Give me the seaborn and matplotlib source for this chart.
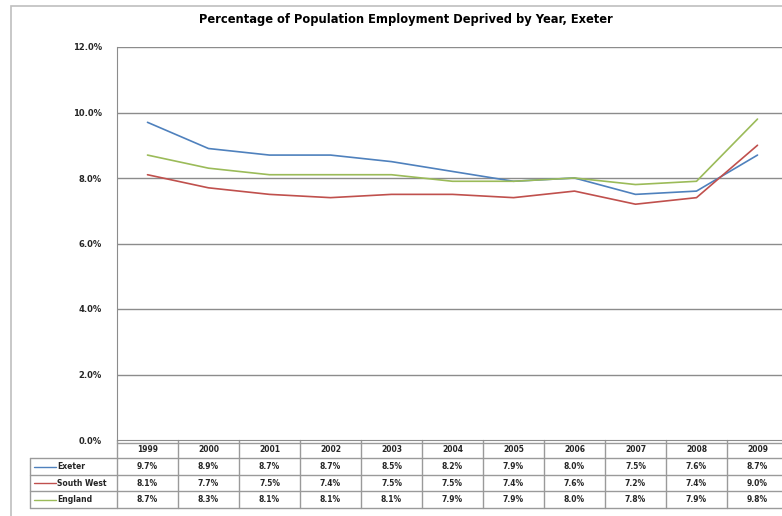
import pandas as pd
import matplotlib.pyplot as plt
import matplotlib.transforms as mtransforms
from matplotlib.patches import Rectangle
import seaborn as sns

years = ["1999", "2000", "2001", "2002", "2003", "2004", "2005", "2006", "2007", "2008", "2009"]
exeter = [9.7, 8.9, 8.7, 8.7, 8.5, 8.2, 7.9, 8.0, 7.5, 7.6, 8.7]
south_west = [8.1, 7.7, 7.5, 7.4, 7.5, 7.5, 7.4, 7.6, 7.2, 7.4, 9.0]
england = [8.7, 8.3, 8.1, 8.1, 8.1, 7.9, 7.9, 8.0, 7.8, 7.9, 9.8]
series_names = ["Exeter", "South West", "England"]
colores = ["#4F81BD", "#C0504D", "#9BBB59"]

sns.set_style("white")
plt.rcParams['font.family'] = ['Liberation Sans Narrow', 'DejaVu Sans']

valores = {"Exeter": exeter, "South West": south_west, "England": england}
df = pd.DataFrame([
    {"x": i, "year": y, "serie": s, "valor": valores[s][i]}
    for s in series_names for i, y in enumerate(years)
])

fig = plt.figure(figsize=(7.82, 5.16), dpi=100)
ax = fig.add_axes([117 / 782, 76 / 516, 671 / 782, 393 / 516])

sns.lineplot(data=df, x="x", y="valor", hue="serie", palette=colores,
             hue_order=series_names, linewidth=1.2, legend=False, ax=ax)

ax.set_xlim(-0.5, 10.5)
ax.set_ylim(0, 12)
ax.set_yticks([0, 2, 4, 6, 8, 10, 12])
ax.set_yticklabels([f"{v:.1f}%" for v in [0, 2, 4, 6, 8, 10, 12]],
                   fontsize=6, fontweight="bold")
ax.tick_params(axis="y", length=0, pad=11)
ax.set_xticks([])
ax.set_xlabel("")
ax.set_ylabel("")
for v in [2, 4, 6, 8, 10, 12]:
    ax.axhline(v, color="#8c8c8c", linewidth=1.0, zorder=0)
for lado in ["top", "right"]:
    ax.spines[lado].set_visible(False)
ax.spines["left"].set_color("#8c8c8c")
ax.spines["bottom"].set_color("#8c8c8c")

ax.set_title("Percentage of Population Employment Deprived by Year, Exeter",
             fontsize=8.3, fontweight="bold", pad=17, x=0.43, color="black")

# tabla de datos bajo el grafico
trans = mtransforms.blended_transform_factory(ax.transData, ax.transAxes)
alto = 393.0
filas_y = [0, -18 / alto, -35 / alto, -51 / alto, -68 / alto]
x_lab = -0.5 + (30 - 117) / 61.0
gris = "#9a9a9a"

for i in range(12):
    xb = i - 0.5
    ax.plot([xb, xb], [filas_y[0], filas_y[-1]], color=gris, lw=1.0,
            transform=trans, clip_on=False)
ax.plot([x_lab, x_lab], [filas_y[1], filas_y[-1]], color=gris, lw=1.0,
        transform=trans, clip_on=False)
ax.plot([-0.5, 10.5], [filas_y[0] - 3 / alto] * 2, color=gris, lw=1.0,
        transform=trans, clip_on=False)
for k in range(1, 5):
    ax.plot([x_lab, 10.5], [filas_y[k]] * 2, color=gris, lw=1.0,
            transform=trans, clip_on=False)

for i, y in enumerate(years):
    ax.text(i, (filas_y[0] + filas_y[1]) / 2 - 1 / alto, y, ha="center", va="center",
            fontsize=5.5, fontweight="bold", transform=trans)

for k, s in enumerate(series_names):
    yc = (filas_y[k + 1] + filas_y[k + 2]) / 2
    ax.plot([x_lab + 0.06, x_lab + 0.42], [yc, yc], color=colores[k], lw=1.0,
            transform=trans, clip_on=False)
    ax.text(x_lab + 0.44, yc, s, ha="left", va="center", fontsize=5.5,
            fontweight="bold", transform=trans)
    for i, v in enumerate(valores[s]):
        ax.text(i, yc, f"{v:.1f}%", ha="center", va="center", fontsize=5.5,
                fontweight="bold", transform=trans)

# marco exterior del grafico
fig.patches.append(Rectangle((11 / 782, -0.1), 1.2, (516 - 6) / 516 + 0.1,
                             transform=fig.transFigure, fill=False,
                             edgecolor="#bfbfbf", linewidth=1.2))

fig.savefig("out.png", dpi=100)
